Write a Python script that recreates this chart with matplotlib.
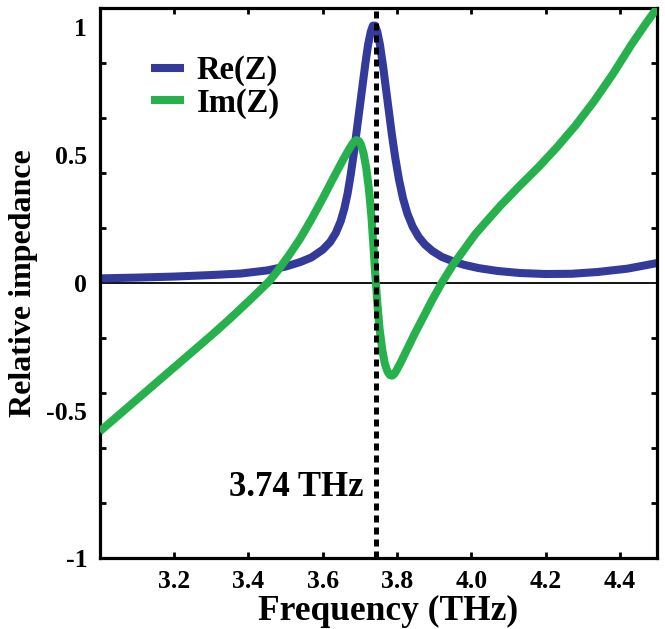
import numpy as np
import matplotlib
matplotlib.use("Agg")
import matplotlib.pyplot as plt
import matplotlib.ticker as mticker

# ---- data ----
freq_re = [3.00, 3.10, 3.20, 3.30, 3.38, 3.45, 3.50, 3.54, 3.57, 3.60, 3.62, 3.635,
           3.648, 3.658, 3.667, 3.675, 3.683, 3.691, 3.699, 3.707, 3.715, 3.722,
           3.729, 3.735, 3.741, 3.747, 3.754, 3.762, 3.770, 3.778, 3.786, 3.795,
           3.805, 3.816, 3.828, 3.842, 3.858, 3.875, 3.895, 3.920, 3.950, 3.980,
           4.020, 4.070, 4.130, 4.200, 4.270, 4.340, 4.420, 4.500]
re_z = [0.018, 0.021, 0.025, 0.031, 0.037, 0.049, 0.064, 0.082, 0.100, 0.130, 0.160,
        0.195, 0.240, 0.290, 0.350, 0.420, 0.500, 0.590, 0.680, 0.770, 0.860, 0.930,
        0.980, 1.005, 1.005, 0.980, 0.930, 0.850, 0.760, 0.670, 0.580, 0.490,
        0.405, 0.330, 0.270, 0.220, 0.180, 0.150, 0.125, 0.102, 0.085, 0.071,
        0.058, 0.047, 0.039, 0.035, 0.036, 0.043, 0.056, 0.078]

freq_im = [3.00, 3.10, 3.20, 3.30, 3.35, 3.40, 3.43, 3.455, 3.48, 3.51, 3.54, 3.57,
           3.60, 3.625, 3.645, 3.660, 3.672, 3.682, 3.690, 3.697, 3.703, 3.710,
           3.717, 3.724, 3.731, 3.737, 3.742, 3.747, 3.753, 3.760, 3.767, 3.774,
           3.781, 3.787, 3.793, 3.800, 3.810, 3.825, 3.845, 3.870, 3.895, 3.920,
           3.950, 3.980, 4.010, 4.040, 4.080, 4.130, 4.180, 4.230, 4.280, 4.330,
           4.380, 4.430, 4.470, 4.500]
im_z = [-0.580, -0.455, -0.330, -0.205, -0.140, -0.072, -0.030, 0.005, 0.050, 0.110,
        0.175, 0.250, 0.330, 0.400, 0.455, 0.495, 0.525, 0.548, 0.558, 0.555, 0.540,
        0.505, 0.450, 0.370, 0.260, 0.130, 0.020, -0.080, -0.180, -0.260, -0.315,
        -0.345, -0.360, -0.362, -0.355, -0.337, -0.310, -0.265, -0.205, -0.135,
        -0.065, 0.000, 0.070, 0.130, 0.190, 0.240, 0.305, 0.380, 0.452, 0.530,
        0.615, 0.710, 0.815, 0.930, 1.015, 1.075]

resonance = 3.74
resonance_label = "3.74 THz"
xticks = [3.2, 3.4, 3.6, 3.8, 4.0, 4.2, 4.4]
xtick_labels = ["3.2", "3.4", "3.6", "3.8", "4.0", "4.2", "4.4"]
ytick_labels = ["1", "0.5", "0", "-0.5", "-1"]
series_names = ["Re(Z)", "Im(Z)"]

BLUE = "#343a99"
GREEN = "#26b14c"
FONT = "Liberation Serif"

fig = plt.figure(figsize=(6.65, 6.29), dpi=100)
ax = fig.add_axes([0.1499, 0.1129, 0.8385, 0.8744])

YLIM = 1.074
ax.set_xlim(3.0, 4.5)
ax.set_ylim(-YLIM, YLIM)

ax.axhline(0, color="black", lw=1.3, zorder=1)
ax.plot(freq_re, re_z, color=BLUE, lw=5.8, label=series_names[0], zorder=2,
        solid_capstyle="butt", solid_joinstyle="round")
ax.plot(freq_im, im_z, color=GREEN, lw=5.8, label=series_names[1], zorder=3,
        solid_capstyle="butt", solid_joinstyle="round")
ax.axvline(resonance + 0.002, color="black", lw=3.6, dashes=(1.4, 1.0), zorder=4)

ax.text(3.529, -0.80, resonance_label, fontfamily=FONT, fontweight="bold",
        fontsize=25, ha="center", va="center")

# ticks
ax.set_xticks(xticks)
ax.set_xticklabels(xtick_labels)
ax.set_yticks([1.0, 0.5, 0.0, -0.5, -YLIM])
ax.set_yticklabels(ytick_labels)
ax.tick_params(axis="y", which="major", length=0, pad=9)
ax.tick_params(axis="x", which="major", direction="in", length=4, width=2,
               top=True, bottom=True, pad=9)
minor_y = [k * YLIM / 5 for k in range(-4, 5) if k != 0]
ax.set_yticks(minor_y, minor=True)
ax.tick_params(axis="y", which="minor", direction="in", length=4, width=2,
               left=True, right=True)
ax.xaxis.set_minor_locator(mticker.NullLocator())

for lab in ax.get_xticklabels() + ax.get_yticklabels():
    lab.set_fontfamily(FONT)
    lab.set_fontweight("bold")
    lab.set_fontsize(18.5)

for sp in ax.spines.values():
    sp.set_linewidth(2.3)

ax.set_xlabel("Frequency (THz)", fontfamily=FONT, fontweight="bold", fontsize=25.5)
ax.xaxis.set_label_coords(0.517, -0.068)
ax.set_ylabel("Relative impedance", fontfamily=FONT, fontweight="bold",
              fontsize=23, labelpad=6)

leg = ax.legend(loc="upper left", bbox_to_anchor=(151 / 665, 1 - 55 / 629),
                bbox_transform=fig.transFigure, frameon=False, borderpad=0,
                borderaxespad=0, handlelength=1.0, handletextpad=0.4,
                labelspacing=0.04,
                prop={"family": FONT, "weight": "bold", "size": 23.5})

fig.savefig("out.png", dpi=100)
